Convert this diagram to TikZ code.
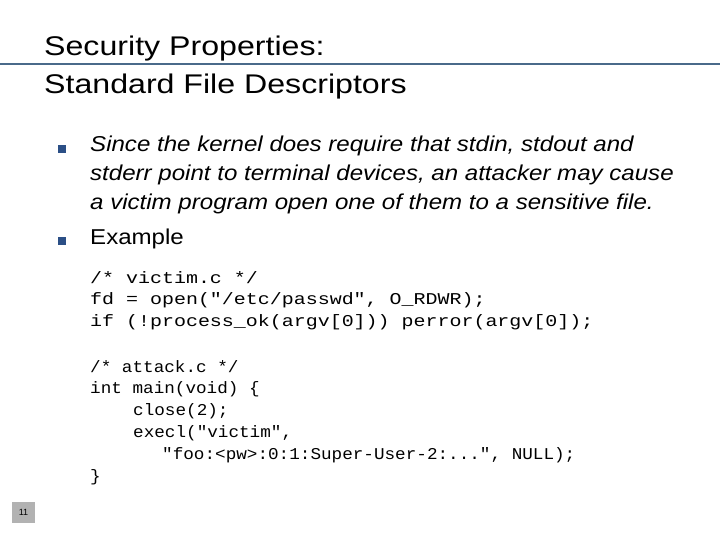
\documentclass[tikz,border=0pt]{standalone}
\usepackage{fontspec}
\setmainfont{Liberation Sans}
\newfontfamily\codefont{Liberation Mono}
\definecolor{rule}{HTML}{4A6A8A}
\definecolor{bul}{HTML}{2B4F86}
\newcommand{\ttlx}[1]{\scalebox{1.19}[1]{#1}}
\newcommand{\bodyx}[1]{\scalebox{1.12}[1]{#1}}
\newcommand{\codex}[1]{\scalebox{1.21}[1]{#1}}
\newcommand{\codey}[1]{\scalebox{1.07}[1]{#1}}
\begin{document}
\begin{tikzpicture}[x=1pt,y=-1pt,
  ttl/.style={anchor=base west,inner sep=0,font=\fontsize{27}{27}\selectfont},
  body/.style={anchor=west,inner sep=0,font=\fontsize{21.5}{21.5}\selectfont\itshape},
  bodyn/.style={anchor=west,inner sep=0,font=\fontsize{21.5}{21.5}\selectfont},
  code/.style={anchor=west,inner sep=0,font=\codefont\fontsize{16.5}{16.5}\selectfont},
  bullet/.style={fill=bul,minimum size=7.5pt,inner sep=0}]
\useasboundingbox (0,0) rectangle (720,540);
\draw[rule,line width=1.6pt] (0,64) -- (720,64);
\node[ttl] (t1) at (44,56) {\ttlx{Security Properties:}};
\node[ttl] (t2) at (44,94) {\ttlx{Standard File Descriptors}};
\node[bullet] (b1) at (62,149) {};
\node[bullet] (b2) at (62,241) {};
\node[body] (l1) at (90,146) {\bodyx{Since the kernel does require that stdin, stdout and}};
\node[body] (l2) at (90,175) {\bodyx{stderr point to terminal devices, an attacker may cause}};
\node[body] (l3) at (90,204) {\bodyx{a victim program open one of them to a sensitive file.}};
\node[bodyn] (l4) at (90,239) {\bodyx{Example}};
\node[code] (c1) at (90,278) {\codex{/* victim.c */}};
\node[code] (c2) at (90,300) {\codex{fd = open("/etc/passwd", O\_RDWR);}};
\node[code] (c3) at (90,322) {\codex{if (!process\_ok(argv[0])) perror(argv[0]);}};
\node[code] (c4) at (90,367) {\codey{/* attack.c */}};
\node[code] (c5) at (90,389) {\codey{int main(void) \{}};
\node[code] (c6) at (133,411) {\codey{close(2);}};
\node[code] (c7) at (133,433) {\codey{execl("victim",}};
\node[code] (c8) at (162,455) {\codey{"foo:<pw>:0:1:Super-User-2:...", NULL);}};
\node[code] (c9) at (90,477) {\codey{\}}};
\node[fill=black!30,minimum width=23pt,minimum height=21pt,inner sep=0,font=\fontsize{9}{9}\selectfont] (pg) at (23.5,512.5) {11};
\end{tikzpicture}
\end{document}
